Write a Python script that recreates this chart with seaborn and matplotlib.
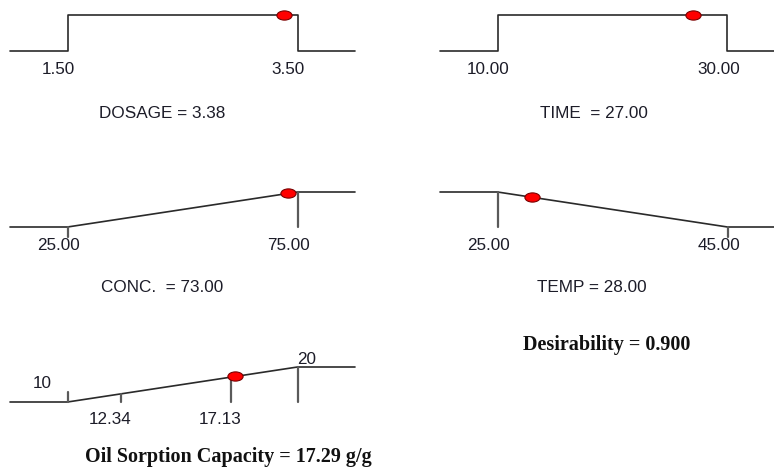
import numpy as np
import seaborn as sns
import matplotlib.pyplot as plt
from matplotlib.path import Path

sns.set_style("white")
plt.rcParams['font.family'] = ['Liberation Sans', 'DejaVu Sans']

# factor ramps (Design-Expert style desirability ramps)
factors = ["DOSAGE", "TIME ", "CONC. ", "TEMP"]
lows = [1.50, 10.00, 25.00, 25.00]
highs = [3.50, 30.00, 75.00, 45.00]
settings = [3.38, 27.00, 73.00, 28.00]
goals = ["range", "range", "max", "min"]

# response ramp
resp_name = "Oil Sorption Capacity"
resp_low = 10
resp_high = 20
resp_ticks = [12.34, 17.13]
resp_pred = 17.29
resp_unit = "g/g"
desirability = 0.900

W, H = 774, 468
PT = 0.72  # points per pixel at dpi 100
FS = 12.3
fig = plt.figure(figsize=(W / 100, H / 100), dpi=100)

line_c = "#2a2a2a"
tick_c = "#5a5a5a"
text_c = "#1c1c28"

# elliptical dot like the original
circ = Path.unit_circle()
ellipse = Path(circ.vertices * np.array([1.65, 1.0]), circ.codes)


def panel(left, top, bottom, width=345):
    ax = fig.add_axes([left / W, 1 - bottom / H, width / W, (bottom - top) / H])
    ax.set_axis_off()
    ax.set_ylim(0, 1)
    return ax


def ramp(goal, lo, hi):
    pad = 0.25 * (hi - lo)
    if goal == "range":
        return [lo - pad, lo, lo, hi, hi, hi + pad], [0, 0, 1, 1, 0, 0]
    if goal == "max":
        return [lo - pad, lo, hi, hi + pad], [0, 0, 1, 1]
    return [lo - pad, lo, hi, hi + pad], [1, 1, 0, 0]


def desir(goal, lo, hi, v):
    if goal == "range":
        return 1.0
    if goal == "max":
        return (v - lo) / (hi - lo)
    return (hi - v) / (hi - lo)


def label(ax, txt, x, y, dx, dy):
    ax.annotate(txt, xy=(x, y), xytext=(dx * PT, dy * PT), textcoords="offset points",
                ha="center", va="center", fontsize=FS, color=text_c, annotation_clip=False)


def vtick(ax, x, y0, y1):
    ax.plot([x, x], [y0, y1], color=tick_c, lw=1.6, clip_on=False)


def dot(ax, x, y):
    sns.scatterplot(x=[x], y=[y], ax=ax, marker=ellipse, s=120, color="#ff0000",
                    edgecolor="#7a0000", linewidth=0.8, zorder=5, clip_on=False, legend=False)


spots = [(10, 15, 51), (440, 15, 51), (10, 192, 227), (440, 192, 227)]
title_pos = [(162, 113), (594, 113), (162, 288), (592, 288)]

for i in range(4):
    lo, hi, s, g = lows[i], highs[i], settings[i], goals[i]
    ax = panel(*spots[i])
    xs, ys = ramp(g, lo, hi)
    ax.set_xlim(xs[0], xs[-1])
    sns.lineplot(x=xs, y=ys, ax=ax, sort=False, estimator=None, color=line_c,
                 lw=1.2, clip_on=False)
    if g == "max":
        vtick(ax, lo, 0, -0.28)
        vtick(ax, hi, 1, 0)
    elif g == "min":
        vtick(ax, lo, 1, 0)
        vtick(ax, hi, 0, -0.28)
    label(ax, f"{lo:.2f}", lo, 0, -9, -18)
    label(ax, f"{hi:.2f}", hi, 0, -9, -18)
    dot(ax, s, desir(g, lo, hi, s))
    fig.text(title_pos[i][0] / W, 1 - title_pos[i][1] / H, f"{factors[i]} = {s:.2f}",
             ha="center", va="center", fontsize=FS, color=text_c)

# response panel
ax = panel(10, 367, 402)
xs, ys = ramp("max", resp_low, resp_high)
ax.set_xlim(xs[0], xs[-1])
sns.lineplot(x=xs, y=ys, ax=ax, sort=False, estimator=None, color=line_c, lw=1.2, clip_on=False)
vtick(ax, resp_low, 0, 0.28)
for t in resp_ticks:
    vtick(ax, t, desir("max", resp_low, resp_high, t), 0)
    label(ax, f"{t:.2f}", t, 0, -11, -18)
vtick(ax, resp_high, 1, 0)
label(ax, f"{resp_low}", resp_low, 0, -25, 19)
label(ax, f"{resp_high}", resp_high, 1, 9, 8)
dot(ax, resp_pred, desir("max", resp_low, resp_high, resp_pred))

bold = dict(family=["Liberation Serif", "DejaVu Serif"], fontweight="bold", fontsize=14.5,
            color="#111111", ha="center", va="center")
fig.text(228 / W, 1 - 457 / H, f"{resp_name} = {resp_pred:.2f} {resp_unit}", **bold)
fig.text(607 / W, 1 - 345 / H, f"Desirability = {desirability:.3f}", **bold)

fig.savefig("out.png", dpi=100, facecolor="white")
